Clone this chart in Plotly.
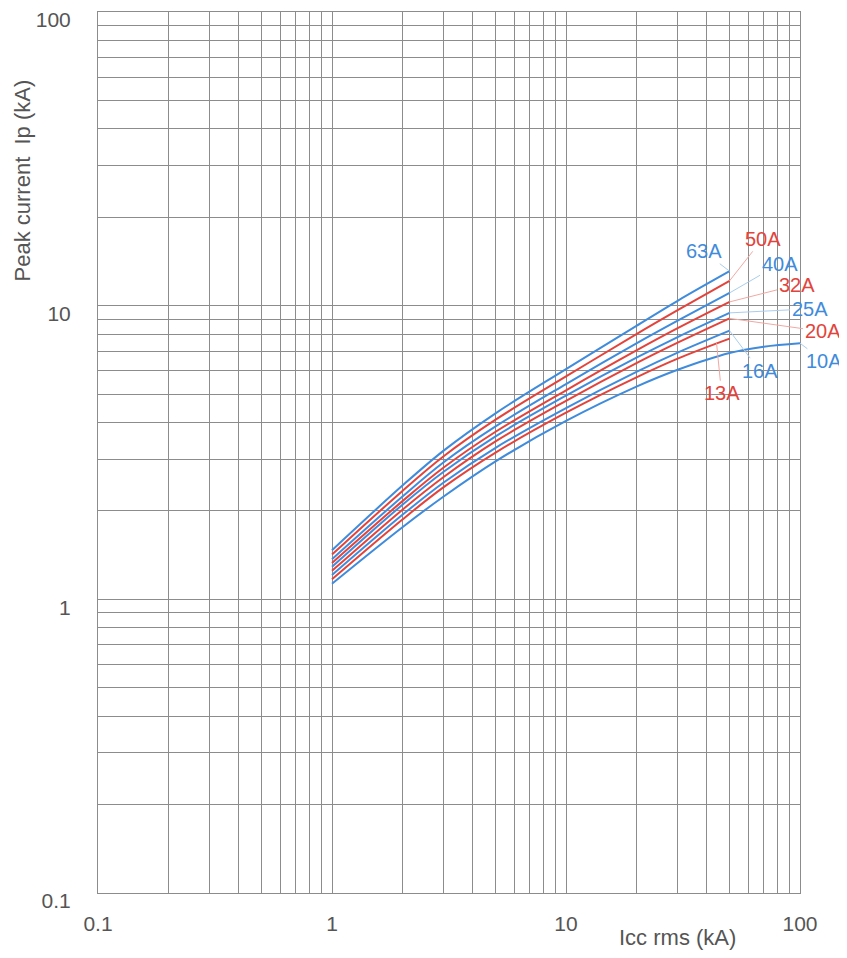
import math
import plotly.graph_objects as go

# short-circuit current Icc rms (kA)
icc = [1, 2, 3, 5, 10, 20, 30, 50]
icc_10a = [1, 2, 3, 5, 10, 20, 30, 50, 70, 100]

# peak current Ip (kA) for each rating
ip_63 = [1.47, 2.44, 3.21, 4.30, 6.08, 8.54, 10.39, 13.1]
ip_50 = [1.42, 2.34, 3.07, 4.09, 5.74, 8.0, 9.65, 12.15]
ip_40 = [1.37, 2.24, 2.93, 3.88, 5.41, 7.44, 8.89, 11.05]
ip_32 = [1.33, 2.16, 2.81, 3.72, 5.15, 7.04, 8.38, 10.3]
ip_25 = [1.29, 2.10, 2.72, 3.59, 4.94, 6.65, 7.82, 9.45]
ip_20 = [1.25, 2.02, 2.61, 3.45, 4.74, 6.37, 7.48, 9.05]
ip_16 = [1.21, 1.94, 2.50, 3.28, 4.48, 5.95, 6.92, 8.22]
ip_13 = [1.17, 1.87, 2.41, 3.16, 4.32, 5.70, 6.60, 7.72]
ip_10 = [1.13, 1.76, 2.24, 2.95, 4.05, 5.3, 6.05, 6.9, 7.25, 7.45]

labels = ['63A', '50A', '40A', '32A', '25A', '20A', '16A', '13A', '10A']
series = [ip_63, ip_50, ip_40, ip_32, ip_25, ip_20, ip_16, ip_13, ip_10]

BLUE = '#3f8bdc'
RED = '#e2443c'
BLUE_PALE = '#a9cdef'
RED_PALE = '#f2a8a3'
colors = [BLUE, RED, BLUE, RED, BLUE, RED, BLUE, RED, BLUE]

# label offsets (px) from the point where each leader line meets its curve
lab_off = {'63A': (-26, -20), '50A': (33, -42), '40A': (50, -29), '32A': (67, -17),
           '25A': (80, -4), '20A': (93, 13), '16A': (30, 40), '13A': (5, 50), '10A': (24, 18)}

decades = [0.1, 1, 10, 100]
minor = [m * d for d in [0.1, 1, 10] for m in range(2, 10)]

FONT = 'Liberation Sans, Arial'
TXT = '#555555'

fig = go.Figure()
for name, ys, col in zip(labels, series, colors):
    xs = icc_10a if name == '10A' else icc
    fig.add_trace(go.Scatter(x=xs, y=ys, mode='lines', name=name,
                             line=dict(color=col, width=2, shape='spline', smoothing=1.0),
                             showlegend=False, cliponaxis=False))

for name, ys, col in zip(labels, series, colors):
    xs = icc_10a if name == '10A' else icc
    if name == '13A':
        px_, py_ = 44, 7.45
    else:
        px_, py_ = xs[-1], ys[-1]
    ax, ay = lab_off[name]
    fig.add_annotation(x=math.log10(px_), y=math.log10(py_), xref='x', yref='y',
                       text=name, showarrow=True, arrowhead=0, arrowwidth=1,
                       arrowcolor=BLUE_PALE if col == BLUE else RED_PALE,
                       ax=ax, ay=ay, font=dict(family=FONT, size=20, color=col))

grid_col = '#8c8c8c'
axis_common = dict(type='log', range=[-1, 2], tickvals=decades,
                   ticktext=['0.1', '1', '10', '100'],
                   showgrid=True, gridcolor=grid_col, gridwidth=1,
                   minor=dict(tickvals=minor, showgrid=True, gridcolor=grid_col, gridwidth=1),
                   showline=True, linecolor=grid_col, linewidth=1, mirror=True,
                   zeroline=False, ticks='', automargin=False, ticklabeloverflow='allow',
                   tickfont=dict(family=FONT, size=21, color=TXT))

fig.update_xaxes(**axis_common, ticklabelstandoff=12)
fig.update_yaxes(**axis_common, ticklabelstandoff=22, ticklabelshift=8)

fig.add_annotation(text='Peak current  Ip (kA)', xref='paper', yref='paper',
                   x=-0.108, y=0.809, xanchor='center', yanchor='middle',
                   textangle=-90, showarrow=False,
                   font=dict(family=FONT, size=22, color=TXT))
fig.add_annotation(text='Icc rms (kA)', xref='paper', yref='paper',
                   x=0.739, y=-0.051, xanchor='left', yanchor='middle', showarrow=False,
                   font=dict(family=FONT, size=22, color=TXT))

# page body adds an 8px margin, so the figure is sized to end at the window edge
fig.update_layout(width=839, height=950, plot_bgcolor='white', paper_bgcolor='white',
                  margin=dict(l=90, r=47, t=4, b=65))

fig.write_html('out.html')
